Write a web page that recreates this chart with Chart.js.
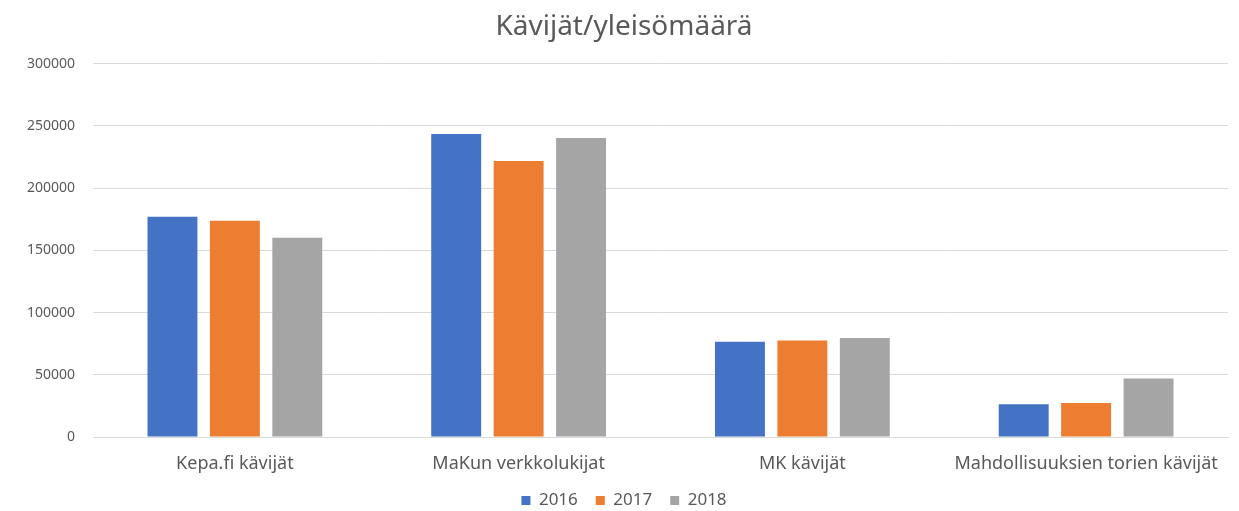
<!DOCTYPE html>
<html>
<head>
<meta charset="utf-8">
<script src="https://cdn.jsdelivr.net/npm/chart.js@4"></script>
<style>
    html, body { margin: 0; padding: 0; background: #fff; }
    #wrap { width: 1239px; height: 511px; }
</style>
</head>
<body>
<div id="wrap"><canvas id="chart"></canvas></div>
<script>
// data
const categories = ['Kepa.fi kävijät', 'MaKun verkkolukijat', 'MK kävijät', 'Mahdollisuuksien torien kävijät'];
const years = ['2016', '2017', '2018'];
const values2016 = [177000, 243500, 76500, 26300];
const values2017 = [173800, 221800, 77500, 27300];
const values2018 = [160000, 240200, 79600, 47000];
const colors = ['#4472c4', '#ed7d31', '#a5a5a5'];

const textColor = '#595959';
const fontFamily = '"Noto Sans", "Open Sans", sans-serif';

new Chart('chart', {
    type: 'bar',
    data: {
        labels: categories,
        datasets: [values2016, values2017, values2018].map((vals, i) => ({
            label: years[i],
            data: vals,
            backgroundColor: colors[i],
            categoryPercentage: 0.66,
            barPercentage: 0.8
        }))
    },
    options: {
        responsive: true,
        maintainAspectRatio: false,
        animation: false,
        layout: { padding: { left: 20, right: 11, top: 4, bottom: -8 } },
        plugins: {
            title: {
                display: true,
                text: 'Kävijät/yleisömäärä',
                color: textColor,
                font: { family: fontFamily, size: 28, weight: 'normal' },
                padding: { top: 6, bottom: 20 }
            },
            legend: {
                position: 'bottom',
                labels: {
                    color: textColor,
                    font: { family: fontFamily, size: 17 },
                    boxWidth: 9,
                    boxHeight: 9,
                    padding: 1,
                    // wider gaps between items without extra vertical padding
                    generateLabels: chart => Chart.defaults.plugins.legend.labels.generateLabels(chart)
                        .map((item, i, all) => ({...item, text: i < all.length - 1 ? item.text + '\u2002\u2002' : item.text}))
                }
            },
            tooltip: { enabled: false }
        },
        scales: {
            x: {
                grid: { display: false, drawTicks: false },
                border: { color: '#d9d9d9' },
                ticks: { color: textColor, font: { family: fontFamily, size: 18, lineHeight: 1 }, padding: 18 }
            },
            y: {
                min: 0,
                max: 300000,
                afterFit: scale => { scale.width = 73; },
                ticks: {
                    stepSize: 50000,
                    color: textColor,
                    font: { family: fontFamily, size: 14 },
                    padding: 18,
                    callback: v => String(v)
                },
                grid: { color: '#d9d9d9', drawTicks: false },
                border: { display: false }
            }
        }
    }
});
</script>
</body>
</html>
